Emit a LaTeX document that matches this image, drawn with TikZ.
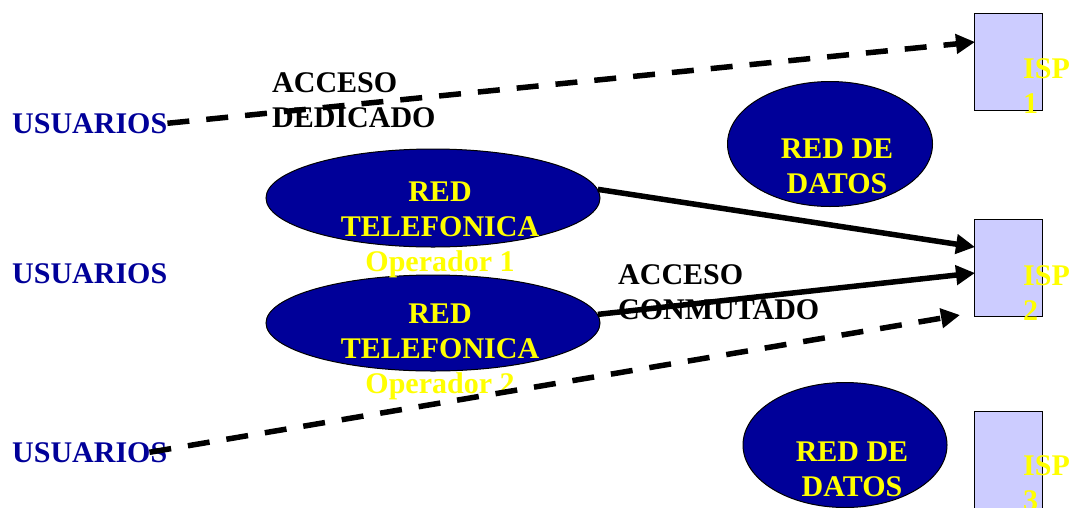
\documentclass[tikz,border=0pt]{standalone}
\usepackage{fontspec}
\setmainfont{Liberation Serif}
\usetikzlibrary{shapes.geometric,arrows.meta,positioning}
\definecolor{netblue}{RGB}{0,0,153}
\definecolor{ispfill}{RGB}{204,204,255}
\definecolor{netyellow}{RGB}{255,255,0}

\tikzset{
  net/.style={ellipse, draw=black, fill=netblue, line width=1pt, inner sep=0pt},
  ispbox/.style={rectangle, draw=black, fill=ispfill, line width=1pt, inner sep=0pt,
    minimum width=68pt, minimum height=97pt},
  lbl/.style={font=\bfseries\fontsize{30}{35}\selectfont, inner sep=0pt},
  access/.style={line width=5.5pt, -{Triangle[length=19pt,width=19pt]}},
  dedic/.style={access, dash pattern=on 22pt off 17pt},
}

\begin{document}
\begin{tikzpicture}[x=1pt,y=-1pt]
  \useasboundingbox (0,0) rectangle (1073,507);

  % ellipses for the networks
  \node [net, minimum width=334pt, minimum height=98pt] (tel1) at (433,198) {};
  \node [net, minimum width=334pt, minimum height=96pt] (tel2) at (433,323) {};
  \node [net, minimum width=205pt, minimum height=125pt] (datos1) at (830,144) {};
  \node [net, minimum width=204pt, minimum height=125pt] (datos2) at (845,445) {};

  % providers
  \node [ispbox] (isp1) at (1008,61.5) {};
  \node [ispbox] (isp2) at (1008,267.5) {};
  \node [ispbox] (isp3) at (1008,459.5) {};

  % texts
  \node [lbl, netblue, anchor=north west] (usr1) at (12,113) {USUARIOS};
  \node [lbl, netblue, anchor=north west] (usr2) at (12,263) {USUARIOS};
  \node [lbl, netblue, anchor=north west] (usr3) at (12,442) {USUARIOS};

  \node [lbl, netyellow, anchor=north, align=center] (tel1txt) at (440,182) {RED\\TELEFONICA\\Operador 1};
  \node [lbl, netyellow, anchor=north, align=center] (tel2txt) at (440,304) {RED\\TELEFONICA\\Operador 2};
  \node [lbl, netyellow, anchor=north, align=center] (datos1txt) at (837,139) {RED DE\\DATOS};
  \node [lbl, netyellow, anchor=north, align=center] (datos2txt) at (852,442) {RED DE\\DATOS};

  \node [lbl, netyellow, anchor=north west, align=left] (isp1txt) at (1023,58) {ISP\\1};
  \node [lbl, netyellow, anchor=north west, align=left] (isp2txt) at (1023,265) {ISP\\2};
  \node [lbl, netyellow, anchor=north west, align=left] (isp3txt) at (1023,455) {ISP\\3};

  \node [lbl, anchor=north west, align=left] (dedtxt) at (272,72) {ACCESO\\DEDICADO};
  \node [lbl, anchor=north west, align=left] (conmtxt) at (618,264) {ACCESO\\CONMUTADO};

  % arrow ends
  \coordinate (isp1in) at (975,42);
  \coordinate (isp2a) at (975,247);
  \coordinate (isp2b) at (975,273);
  \coordinate (isp2c) at (960,315);

  % accesses
  \draw [dedic] (usr1.east) -- (isp1in);
  \draw [access] (tel1.3) -- (isp2a);
  \draw [access] (tel2.3) -- (isp2b);
  \draw [dedic] ([xshift=-18pt]usr3.east) -- (isp2c);
\end{tikzpicture}
\end{document}
